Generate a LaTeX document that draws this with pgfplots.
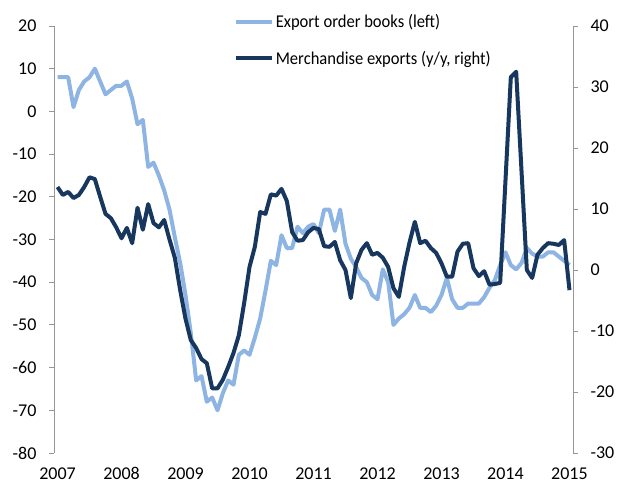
\documentclass[border=0pt]{standalone}
\usepackage{pgfplots}
\pgfplotsset{compat=1.18}
\usepackage{pgfplotstable}
\usepackage{fontspec}
\setmainfont{Carlito}
\newfontfamily\legendfont{Carlito}[FakeStretch=0.92]
\definecolor{lightb}{RGB}{141,180,226}
\definecolor{darkb}{RGB}{23,55,94}
\definecolor{axgray}{RGB}{150,150,150}

\pgfplotstableread{
m v
0 8
1 8
2 8
3 1
4 5
5 7
6 8
7 10
8 7
9 4
10 5
11 6
12 6
13 7
14 3
15 -3
16 -2
17 -13
18 -12
19 -15
20 -18.5
21 -23
22 -29.5
23 -35.5
24 -43
25 -52
26 -63
27 -62
28 -68
29 -67
30 -70
31 -66
32 -63
33 -64
34 -57
35 -56
36 -57
37 -53
38 -48.5
39 -42
40 -35
41 -36
42 -29
43 -32
44 -32
45 -27
46 -28.5
47 -27
48 -26.4
49 -28.5
50 -23
51 -23
52 -28
53 -23
54 -31
55 -34.5
56 -36.5
57 -39
58 -40
59 -43
60 -44
61 -37
62 -40
63 -50
64 -48.5
65 -47.5
66 -46
67 -43
68 -46
69 -46
70 -47
71 -45.5
72 -43
73 -39
74 -44
75 -46
76 -46
77 -45
78 -45
79 -45
80 -43.5
81 -41.3
82 -39.5
83 -36
84 -33
85 -36
86 -37
87 -35.5
88 -32
89 -33.3
90 -34
91 -34
92 -33
93 -33
94 -34
95 -35
96 -36
}\ordertable

\pgfplotstableread{
m v
0 13.6
1 12.3
2 12.8
3 11.8
4 12.3
5 13.6
6 15.2
7 14.9
8 12
9 9.2
10 8.5
11 7
12 5.2
13 6.9
14 4.4
15 10.2
16 6.6
17 10.8
18 7.7
19 7
20 8.2
21 5
22 2
23 -3.3
24 -8
25 -11.5
26 -12.8
27 -14.6
28 -15.3
29 -19.4
30 -19.4
31 -18
32 -15.9
33 -13.6
34 -10.7
35 -5.4
36 0.5
37 3.8
38 9.5
39 9.2
40 12.4
41 12.2
42 13.3
43 11.3
44 6.2
45 4.8
46 4.9
47 6.2
48 6.9
49 6.7
50 3.9
51 3.8
52 4.6
53 1.6
54 0
55 -4.6
56 1.1
57 3.3
58 4.4
59 2.5
60 2.8
61 2
62 0.5
63 -3
64 -4.4
65 0.5
66 4.5
67 7.9
68 4.4
69 4.8
70 3.6
71 2.8
72 1.1
73 -1.1
74 -1.1
75 3
76 4.3
77 4.4
78 0.3
79 -1
80 -0.2
81 -2.4
82 -2.3
83 -2.1
84 14.7
85 31.6
86 32.5
87 16.3
88 0
89 -1.3
90 2.5
91 3.6
92 4.4
93 4.3
94 4.1
95 4.9
96 -3.3
}\exporttable

\begin{document}
\begin{tikzpicture}
\useasboundingbox (0,0) rectangle (629pt,484pt);
\pgfplotsset{
  every axis/.append style={
    scale only axis, width=519pt, height=427pt,
    at={(54pt,31pt)}, anchor=south west,
    xmin=-0.66, xmax=96.66,
    font=\fontsize{18}{21}\selectfont,
    /pgf/number format/assume math mode=true,
    tick align=outside, major tick length=5pt,
    every tick/.style={axgray, line width=0.8pt},
    axis line style={axgray, line width=0.8pt},
    clip=false,
  }
}
\begin{axis}[
  axis y line*=left, axis x line*=bottom,
  x axis line style={draw=none},
  xtick={0,12,...,96},
  xticklabels={2007,2008,2009,2010,2011,2012,2013,2014,2015},
  xtick style={draw=none},
  ymin=-80, ymax=20, ytick={-80,-70,...,20},
  yticklabel style={xshift=-9pt},
  xticklabel style={inner ysep=0pt, yshift=-9.5pt},
  legend style={draw=none, fill=none, at={(0.347,1.028)}, anchor=north west,
    font=\legendfont\fontsize{18}{21}\selectfont, row sep=22pt, inner sep=0pt,
    nodes={inner xsep=1.5pt, inner ysep=0pt}, cells={anchor=west}},
  legend image code/.code={\draw[#1] (0pt,0pt) -- (36pt,0pt);},
]
\addplot[lightb, line width=4pt, line join=round] table[x=m, y=v] {\ordertable};
\addlegendentry{Export order books (left)}
\addlegendimage{darkb, line width=4pt}
\addlegendentry{Merchandise exports (y/y, right)}
\end{axis}
\begin{axis}[
  axis y line*=right, axis x line=none,
  ymin=-30, ymax=40, ytick={-30,-20,...,40},
  yticklabel style={xshift=9pt},
]
\addplot[darkb, line width=4pt, line join=round] table[x=m, y=v] {\exporttable};
\end{axis}
\end{tikzpicture}
\end{document}
